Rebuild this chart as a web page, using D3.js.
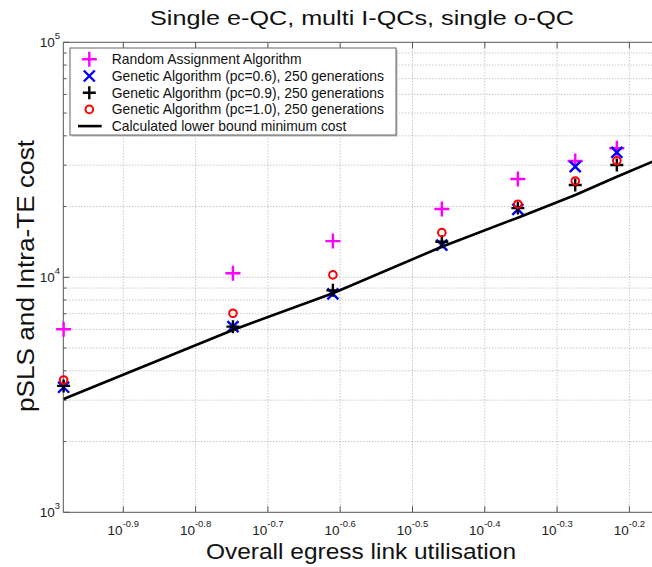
<!DOCTYPE html>
<html><head><meta charset="utf-8">
<script src="https://cdn.jsdelivr.net/npm/d3@7"></script>
<style>
body{margin:0;background:#fff;}
svg{display:block;font-family:"Liberation Sans",Arial,Helvetica,sans-serif;}
</style></head>
<body><svg id="c" width="652" height="567"></svg>
<script>
// ---- data ----
const utilisation = [0.1041, 0.1785, 0.2454, 0.3472, 0.4423, 0.5310, 0.6062];
const randomCost  = [6010, 10400, 14260, 19530, 26190, 31250, 35400];
const gaPc06Cost  = [3405, 6165, 8500, 13710, 19460, 29560, 34040];
const gaPc09Cost  = [3450, 6165, 8800, 14170, 19700, 24720, 30060];
const gaPc10Cost  = [3656, 7030, 10240, 15490, 20470, 25700, 31320];
const boundUtil   = [0.1041, 0.1785, 0.2454, 0.3472, 0.4423, 0.5310, 0.6062, 0.684];
const boundCost   = [3034, 5970, 8550, 13490, 17930, 22390, 26790, 31320];
const xTickExps   = ["-0.9","-0.8","-0.7","-0.6","-0.5","-0.4","-0.3","-0.2"];
const yTickExps   = ["3","4","5"];
const legendLabels = [
  "Random Assignment Algorithm",
  "Genetic Algorithm (pc=0.6), 250 generations",
  "Genetic Algorithm (pc=0.9), 250 generations",
  "Genetic Algorithm (pc=1.0), 250 generations",
  "Calculated lower bound minimum cost"
];
const titleText = "Single e-QC, multi I-QCs, single o-QC";
const xLabel = "Overall egress link utilisation";
const yLabel = "pSLS and Intra-TE cost";

// ---- layout ----
const svg = d3.select("#c");
const L = 63.3, R = 654.7, T = 42.3, B = 512.3;
const x = d3.scaleLog().domain([Math.pow(10,-0.983), Math.pow(10,-0.165)]).range([L, R]);
const y = d3.scaleLog().domain([1e3, 1e5]).range([B, T]);
const axisCol = "#555";
const gridCol = "#9a9a9a";

// clip
svg.append("defs").append("clipPath").attr("id","clip")
  .append("rect").attr("x",L).attr("y",T).attr("width",R-L).attr("height",B-T);

// grid
const gridG = svg.append("g");
const xTickVals = xTickExps.map(e => Math.pow(10, +e));
const yMinor = [];
for (let d = 1e3; d < 1e5; d *= 10) for (let k = 1; k <= 9; k++) yMinor.push(d*k);
yMinor.push(1e5);
gridG.selectAll("line.gy").data(yMinor.filter(v => v > 1e3 && v < 1e5)).join("line")
  .attr("x1", L).attr("x2", R).attr("y1", d => y(d)).attr("y2", d => y(d))
  .attr("stroke", gridCol).attr("stroke-width", 0.8).attr("stroke-dasharray", "1,2");
gridG.selectAll("line.gx").data(xTickVals).join("line")
  .attr("x1", d => x(d)).attr("x2", d => x(d)).attr("y1", T).attr("y2", B)
  .attr("stroke", gridCol).attr("stroke-width", 0.8).attr("stroke-dasharray", "1,2");

// axes frame
const ax = svg.append("g");
ax.append("line").attr("x1",L).attr("x2",L).attr("y1",T).attr("y2",B).attr("stroke",axisCol);
ax.append("line").attr("x1",L).attr("x2",R).attr("y1",B).attr("y2",B).attr("stroke",axisCol);
ax.append("line").attr("x1",L).attr("x2",R).attr("y1",T).attr("y2",T).attr("stroke",axisCol);
ax.append("line").attr("x1",R).attr("x2",R).attr("y1",T).attr("y2",B).attr("stroke",axisCol);
// x ticks (bottom & top)
xTickVals.forEach(v => {
  ax.append("line").attr("x1",x(v)).attr("x2",x(v)).attr("y1",B).attr("y2",B-6).attr("stroke",axisCol);
  ax.append("line").attr("x1",x(v)).attr("x2",x(v)).attr("y1",T).attr("y2",T+6).attr("stroke",axisCol);
});
// y ticks major & minor
yMinor.forEach(v => {
  const major = Math.abs(Math.log10(v) - Math.round(Math.log10(v))) < 1e-9;
  const len = major ? 6 : 3;
  ax.append("line").attr("x1",L).attr("x2",L+len).attr("y1",y(v)).attr("y2",y(v)).attr("stroke",axisCol);
});

// tick labels
const xl = svg.append("g").attr("fill","#222");
xTickExps.forEach(e => {
  const t = xl.append("text").attr("x", x(Math.pow(10,+e))).attr("y", 534.5)
    .attr("text-anchor","middle").attr("font-size", 13.5);
  t.append("tspan").text("10");
  t.append("tspan").attr("dy",-8).attr("font-size",9.5).text(e);
});
yTickExps.forEach(e => {
  const t = xl.append("text").attr("x", 60).attr("y", y(Math.pow(10,+e)) + 5)
    .attr("text-anchor","end").attr("font-size", 13.5);
  t.append("tspan").text("10");
  t.append("tspan").attr("dy",-8).attr("font-size",9.5).text(e);
});

// titles
svg.append("text").attr("x", 362).attr("y", 25).attr("text-anchor","middle")
  .attr("font-size", 21).attr("textLength", 424).attr("lengthAdjust","spacingAndGlyphs")
  .attr("fill","#111").text(titleText);
svg.append("text").attr("x", 361).attr("y", 559).attr("text-anchor","middle")
  .attr("font-size", 22).attr("textLength", 310).attr("lengthAdjust","spacingAndGlyphs")
  .attr("fill","#111").text(xLabel);
svg.append("text").attr("transform","translate(34,276) rotate(-90)").attr("text-anchor","middle")
  .attr("font-size", 23).attr("textLength", 272).attr("lengthAdjust","spacingAndGlyphs")
  .attr("fill","#111").text(yLabel);

// markers
function plus(g, cx, cy, s, col, w) {
  g.append("path").attr("d", `M${cx-s},${cy}H${cx+s}M${cx},${cy-s}V${cy+s}`)
    .attr("stroke", col).attr("stroke-width", w).attr("fill","none");
}
function cross(g, cx, cy, s, col, w) {
  g.append("path").attr("d", `M${cx-s},${cy-s}L${cx+s},${cy+s}M${cx-s},${cy+s}L${cx+s},${cy-s}`)
    .attr("stroke", col).attr("stroke-width", w).attr("fill","none");
}
function circ(g, cx, cy, r, col, w) {
  g.append("circle").attr("cx",cx).attr("cy",cy).attr("r",r)
    .attr("stroke", col).attr("stroke-width", w).attr("fill","none");
}
const mk = svg.append("g");
const MAG = "#ff00ff", BLUE = "#0000ff", RED = "#ff0000";
utilisation.forEach((u,i) => plus(mk, x(u), y(randomCost[i]), 7.5, MAG, 2.4));
utilisation.forEach((u,i) => cross(mk, x(u), y(gaPc06Cost[i]), 5.5, BLUE, 2.4));
utilisation.forEach((u,i) => plus(mk, x(u), y(gaPc09Cost[i]), 6.5, "#000", 2.4));
utilisation.forEach((u,i) => circ(mk, x(u), y(gaPc10Cost[i]), 3.8, RED, 2));

// lower bound line
svg.append("path").attr("clip-path","url(#clip)")
  .datum(boundUtil.map((u,i) => [u, boundCost[i]]))
  .attr("d", d3.line().x(d => x(d[0])).y(d => y(d[1])))
  .attr("stroke","#000").attr("stroke-width",2.6).attr("fill","none");

// legend
const lg = svg.append("g");
const LX = 70, LY = 48, LW = 326, LH = 87;
lg.append("rect").attr("x",LX+1.5).attr("y",LY+1.5).attr("width",LW).attr("height",LH).attr("fill","#bbb");
lg.append("rect").attr("x",LX).attr("y",LY).attr("width",LW).attr("height",LH)
  .attr("fill","#fff").attr("stroke","#666").attr("stroke-width",1);
const rowY = i => 59.3 + i*16.7;
const mx = 89.3;
plus(lg, mx, rowY(0), 7.5, MAG, 2.4);
cross(lg, mx, rowY(1), 5.5, BLUE, 2.4);
plus(lg, mx, rowY(2), 6.5, "#000", 2.4);
circ(lg, mx, rowY(3), 3.8, RED, 2);
lg.append("line").attr("x1",78).attr("x2",101.7).attr("y1",rowY(4)).attr("y2",rowY(4))
  .attr("stroke","#000").attr("stroke-width",2.6);
legendLabels.forEach((t,i) => {
  lg.append("text").attr("x",111.7).attr("y",rowY(i)+4.8).attr("font-size",13.9)
    .attr("fill","#111").text(t);
});
</script></body></html>
